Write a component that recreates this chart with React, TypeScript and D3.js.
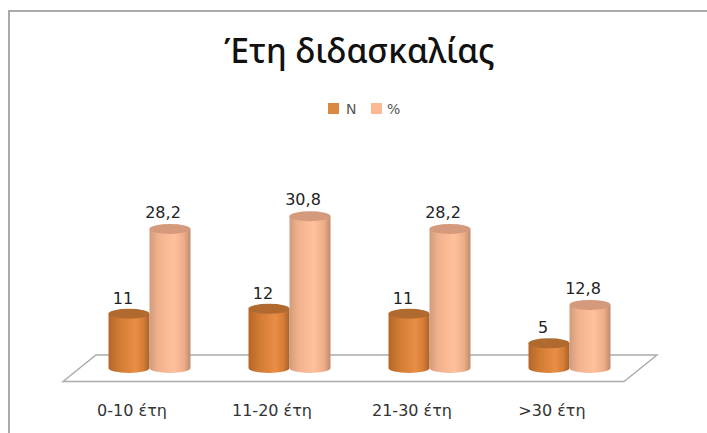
import React from "react";
import * as d3 from "d3";

const categories = ["0-10 έτη", "11-20 έτη", "21-30 έτη", ">30 έτη"];
const seriesN = [11, 12, 11, 5];
const seriesPct = [28.2, 30.8, 28.2, 12.8];
const labelsN = ["11", "12", "11", "5"];
const labelsPct = ["28,2", "30,8", "28,2", "12,8"];
const seriesNames = ["N", "%"];

const titleFont = "'Noto Sans', 'Open Sans', sans-serif";
const font = "'DejaVu Sans', sans-serif";
const x = d3.scaleBand<string>().domain(categories).range([59, 619]).paddingInner(0).paddingOuter(0);
const y = d3.scaleLinear().domain([0, 28.2]).range([368, 229]);
const rx = 20.5;
const ry = 5;

function Cyl({ cx, v, side, top }: { cx: number; v: number; side: string; top: string }) {
  const yt = y(v);
  const yb = y(0);
  const d = `M${cx - rx},${yt} L${cx - rx},${yb} A${rx},${ry} 0 0 0 ${cx + rx},${yb} L${cx + rx},${yt} Z`;
  return (
    <g>
      <path d={d} fill={`url(#${side})`} />
      <ellipse cx={cx} cy={yt} rx={rx} ry={ry} fill={top} />
    </g>
  );
}

function Grad({ id, stops }: { id: string; stops: [number, string][] }) {
  return (
    <linearGradient id={id} x1="0" x2="1" y1="0" y2="0">
      {stops.map(([o, c]) => (
        <stop key={o} offset={o} stopColor={c} />
      ))}
    </linearGradient>
  );
}

export default function App() {
  return (
    <svg width={707} height={433} style={{ position: "absolute", left: 0, top: 0, background: "#fff" }}>
      <defs>
        <Grad id="gN" stops={[[0, "#b5662a"], [0.25, "#d07a33"], [0.65, "#e98e45"], [0.85, "#d57c36"], [1, "#a9602a"]]} />
        <Grad id="gP" stops={[[0, "#d09b7c"], [0.2, "#f0b08c"], [0.6, "#ffc19c"], [0.85, "#ecac88"], [1, "#bd8b6e"]]} />
      </defs>
      <path d="M9,433 V11 H707" fill="none" stroke="#aaaaaa" strokeWidth={2} />
      <text x={359.5} y={63} textAnchor="middle" fontFamily={titleFont} fontSize={33.5} fontWeight={500} fill="#111">Έτη διδασκαλίας</text>

      <rect x={328} y={103} width={11} height={11} fill="#dd8840" />
      <text x={346} y={114} fontFamily={font} fontSize={14} fill="#555">{seriesNames[0]}</text>
      <rect x={371} y={103} width={11} height={11} fill="#fdb893" />
      <text x={387} y={114} fontFamily={font} fontSize={14} fill="#555">{seriesNames[1]}</text>

      <path d="M63,381.5 L96,355 H657 L624,381.5 Z" fill="#fff" stroke="#aaaaaa" strokeWidth={1.4} />

      {categories.map((c, i) => {
        const c0 = x(c)! + x.bandwidth() / 2;
        const cn = c0;
        const cp = c0 + 41;
        return (
          <g key={c}>
            <Cyl cx={cn} v={seriesN[i]} side="gN" top="#b06a30" />
            <Cyl cx={cp} v={seriesPct[i]} side="gP" top="#d49a7b" />
            <text x={cn - 6} y={y(seriesN[i]) - 10} textAnchor="middle" fontFamily={font} fontSize={16} fill="#222">{labelsN[i]}</text>
            <text x={cp - 7} y={y(seriesPct[i]) - 11} textAnchor="middle" fontFamily={font} fontSize={16} fill="#222">{labelsPct[i]}</text>
            <text x={c0 + 3} y={416} textAnchor="middle" fontFamily={font} fontSize={16} fill="#333">{c}</text>
          </g>
        );
      })}
    </svg>
  );
}
